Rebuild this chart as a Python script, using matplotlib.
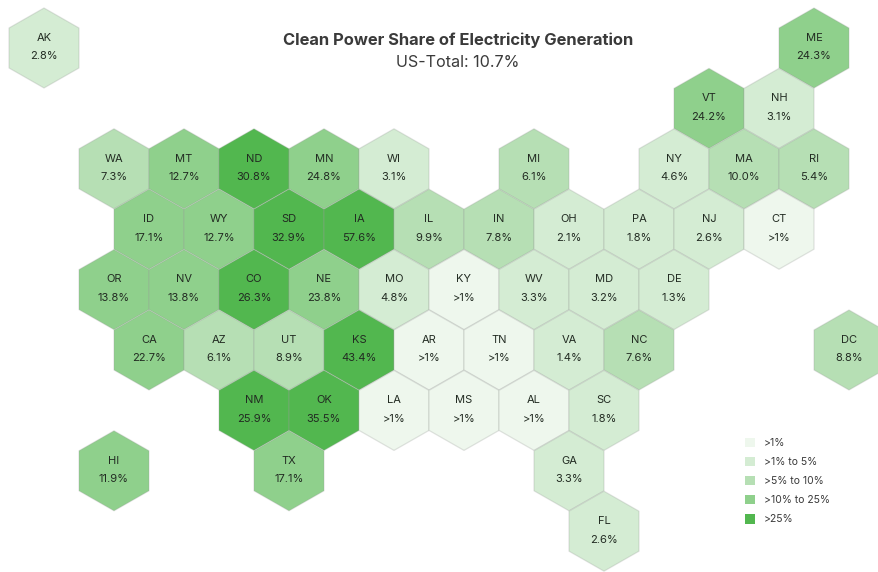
import matplotlib
matplotlib.use("Agg")
import matplotlib.pyplot as plt
from matplotlib.patches import Patch
from matplotlib.collections import PolyCollection
import numpy as np

plt.rcParams['font.family'] = ['Inter', 'DejaVu Sans']

# Row by row, left to right
states = ["AK","ME","VT","NH","WA","MT","ND","MN","WI","MI","NY","MA","RI",
          "ID","WY","SD","IA","IL","IN","OH","PA","NJ","CT",
          "OR","NV","CO","NE","MO","KY","WV","MD","DE",
          "CA","AZ","UT","KS","AR","TN","VA","NC","DC",
          "NM","OK","LA","MS","AL","SC","HI","TX","GA","FL"]
# None means the source prints ">1%"
shares = [2.8,24.3,24.2,3.1,7.3,12.7,30.8,24.8,3.1,6.1,4.6,10.0,5.4,
          17.1,12.7,32.9,57.6,9.9,7.8,2.1,1.8,2.6,None,
          13.8,13.8,26.3,23.8,4.8,None,3.3,3.2,1.3,
          22.7,6.1,8.9,43.4,None,None,1.4,7.6,8.8,
          25.9,35.5,None,None,None,1.8,11.9,17.1,3.3,2.6]
# Tile-map grid position of every state (half-tile columns, rows)
grid_col = [0,22,19,21,2,4,6,8,10,14,18,20,22,
            3,5,7,9,11,13,15,17,19,21,
            2,4,6,8,10,12,14,16,18,
            3,5,7,9,11,13,15,17,23,
            6,8,10,12,14,16,2,7,15,16]
grid_row = [0,0,1,1,2,2,2,2,2,2,2,2,2,
            3,3,3,3,3,3,3,3,3,3,
            4,4,4,4,4,4,4,4,4,
            5,5,5,5,5,5,5,5,5,
            6,6,6,6,6,6,7,7,7,8]
bin_labels = [">1%", ">1% to 5%", ">5% to 10%", ">10% to 25%", ">25%"]
bin_edges = [1, 5, 10, 25]
bin_colors = ["#EEF7ED", "#D4ECD3", "#B6DFB4", "#8FD08C", "#52B74F"]

W, H = 879, 572
TILE_W, ROW_H = 35.0, 60.4   # px per grid unit
X0, Y0 = 44.0, 48.0          # px of grid origin

fig = plt.figure(figsize=(W/100, H/100), dpi=100, facecolor="white")
ax = fig.add_axes([0, 0, 1, 1])
ax.set_xlim(-X0/TILE_W, (W-X0)/TILE_W)
ax.set_ylim((H-Y0)/ROW_H, -Y0/ROW_H)
ax.axis("off")

hex_x = np.array([0, 1, 1, 0, -1, -1])
hex_y = np.array([-2/3, -1/3, 1/3, 2/3, 1/3, -1/3]) * (60.0/ROW_H)

def klass(v):
    return 0 if v is None else int(np.searchsorted(bin_edges, v, side="left"))

classes = [klass(v) for v in shares]
verts = [np.column_stack([hex_x + c, hex_y + r]) for c, r in zip(grid_col, grid_row)]
ax.add_collection(PolyCollection(
    verts,
    facecolors=[bin_colors[k] for k in classes],
    edgecolors=[(0.6, 0.62, 0.6, 0.28)],
    linewidths=0.9, zorder=1))

TEXT = "#222B22"
for s, v, c, r in zip(states, shares, grid_col, grid_row):
    lab = ">1%" if v is None else f"{v:.1f}%"
    ax.annotate(s, (c, r), xytext=(0, 7.4), textcoords="offset points",
                ha="center", va="center", fontsize=8.0, color=TEXT, zorder=3)
    ax.annotate(lab, (c, r), xytext=(0, -6.0), textcoords="offset points",
                ha="center", va="center", fontsize=8.0, color=TEXT, zorder=3)

fig.text(458/W, 1-40.5/H, "Clean Power Share of Electricity Generation",
         ha="center", va="center", fontsize=11.9, fontweight="bold", color="#3A3A3A")
fig.text(458/W, 1-62.5/H, "US-Total: 10.7%",
         ha="center", va="center", fontsize=11.6, color="#3A3A3A")

handles = [Patch(facecolor=c, edgecolor="none", label=l) for c, l in zip(bin_colors, bin_labels)]
leg = ax.legend(handles=handles, loc="upper left", bbox_to_anchor=(745/W, 1-437.5/H),
                bbox_transform=fig.transFigure, frameon=False, fontsize=7.5,
                handlelength=1.0, handleheight=1.0, handletextpad=0.8,
                labelspacing=0.86, borderpad=0, borderaxespad=0,
                labelcolor="#3A3A3A")

fig.savefig("out.png", dpi=100, facecolor="white")
